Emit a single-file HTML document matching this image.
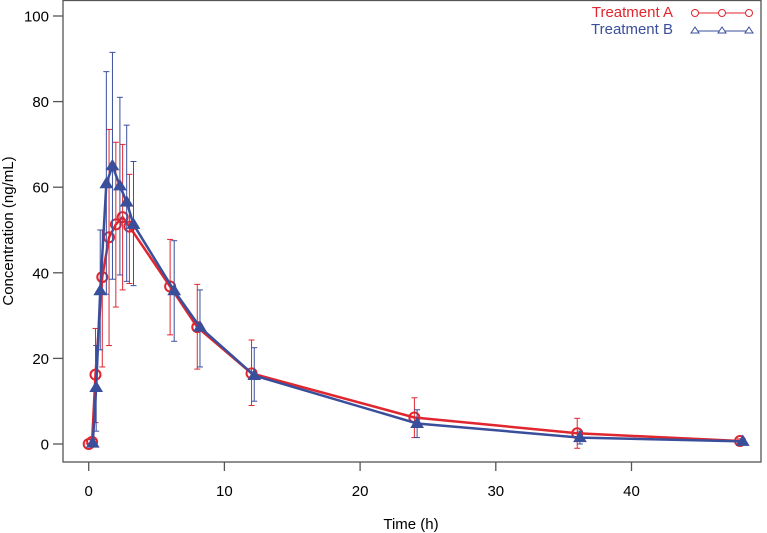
<!DOCTYPE html>
<html><head><meta charset="utf-8"><style>
body{margin:0;background:#fff}
svg{display:block;font-family:"Liberation Sans",Arial,sans-serif}
</style></head><body>
<svg id="chart" width="767" height="533">
<rect x="63" y="0.5" width="698" height="461.5" fill="none" stroke="#555" stroke-width="1.3"/>
<g id="axes"></g>
<g id="series"></g>
<text x="411" y="529" text-anchor="middle" font-size="15">Time (h)</text>
<text x="13" y="231" text-anchor="middle" font-size="15" transform="rotate(-90 13 231)">Concentration (ng/mL)</text>
<g>
<text x="673" y="17" text-anchor="end" font-size="15" fill="#e0262e">Treatment A</text>
<text x="673" y="34" text-anchor="end" font-size="15" fill="#3a4f9c">Treatment B</text>
<line x1="695" y1="13" x2="749" y2="13" stroke="#e0262e" stroke-width="1"/>
<circle cx="695" cy="13" r="3.5" fill="#fff" stroke="#e0262e"/>
<circle cx="722" cy="13" r="3.5" fill="#fff" stroke="#e0262e"/>
<circle cx="749" cy="13" r="3.5" fill="#fff" stroke="#e0262e"/>
<line x1="695" y1="31" x2="749" y2="31" stroke="#3a4f9c" stroke-width="1"/>
<polygon points="695,27 691,33 699,33" fill="#fff" stroke="#3a4f9c"/>
<polygon points="722,27 718,33 726,33" fill="#fff" stroke="#3a4f9c"/>
<polygon points="749,27 745,33 753,33" fill="#fff" stroke="#3a4f9c"/>
</g>
</svg>
<script>
const timesA=[0,0.25,0.5,1,1.5,2,2.5,3,6,8,12,24,36,48];
const concA=[0,0.5,16.2,39,48.3,51.3,53,50.8,36.8,27.3,16.5,6.2,2.5,0.7];
const upA=[0,1,27,50,73.5,70.5,70,63,47.8,37.3,24.3,10.8,6,1.2];
const loA=[0,0,5,18,23,32,36,37.5,25.5,17.5,9,1.5,-1,0.2];
const timesB=[0.3,0.55,0.85,1.3,1.75,2.3,2.8,3.3,6.3,8.2,12.2,24.2,36.2,48.2];
const concB=[0.2,13.2,35.8,60.8,65,60.3,56.5,51.3,35.8,27.3,16,4.8,1.5,0.6];
const upB=[1,23,50,87,91.5,81,74.5,66,47.5,36,22.5,8,3,1];
const loB=[0,3,22,35,38.5,39.5,38,37,24,18,10,1.5,0,0.2];
const xTicks=[0,10,20,30,40];
const yTicks=[0,20,40,60,80,100];
const X=t=>88.7+t*13.57, Y=v=>444-v*4.28;
const NS="http://www.w3.org/2000/svg";
const ax=document.getElementById('axes'), sr=document.getElementById('series');
function mk(tag,at,p){const e=document.createElementNS(NS,tag);for(const k in at)e.setAttribute(k,at[k]);(p||sr).appendChild(e);return e;}
xTicks.forEach(t=>{
  mk('line',{x1:X(t),y1:462,x2:X(t),y2:471,stroke:'#555','stroke-width':1.3},ax);
  const e=mk('text',{x:X(t),y:496,'text-anchor':'middle','font-size':15},ax);e.textContent=t;
  
  
});
yTicks.forEach(v=>{
  mk('line',{x1:53,y1:Y(v),x2:63,y2:Y(v),stroke:'#555','stroke-width':1.3},ax);
  const e=mk('text',{x:49,y:Y(v)+5.5,'text-anchor':'end','font-size':15},ax);e.textContent=v;
  
  
});
function draw(ts,vs,up,lo,col,tri,name){
  ts.forEach((t,i)=>{
    const x=X(t);
    mk('line',{x1:x,y1:Y(up[i]),x2:x,y2:Y(lo[i]),stroke:col,'stroke-width':1});
    mk('line',{x1:x-3,y1:Y(up[i]),x2:x+3,y2:Y(up[i]),stroke:col});
    mk('line',{x1:x-3,y1:Y(lo[i]),x2:x+3,y2:Y(lo[i]),stroke:col});
  });
  const pl=mk('polyline',{points:ts.map((t,i)=>X(t)+','+Y(vs[i])).join(' '),fill:'none',stroke:col,'stroke-width':2.5});
  
  
  ts.forEach((t,i)=>{
    const x=X(t),y=Y(vs[i]);let m;
    if(tri)m=mk('polygon',{points:`${x},${y-6} ${x-6},${y+4} ${x+6},${y+4}`,fill:col,stroke:col});
    else m=mk('circle',{cx:x,cy:y,r:5,fill:'none',stroke:col,'stroke-width':2});
    
    
  });
}
draw(timesA,concA,upA,loA,'#e0262e',false,'treatment-a');
draw(timesB,concB,upB,loB,'#3a4f9c',true,'treatment-b');
</script>
</body></html>
